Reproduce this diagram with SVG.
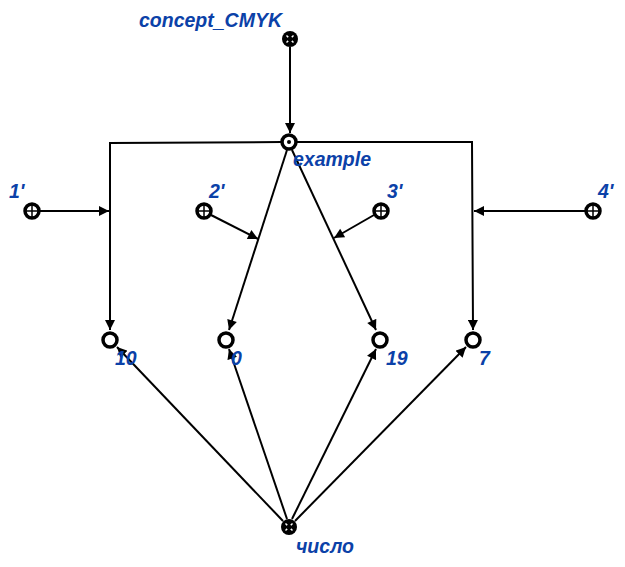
<svg xmlns="http://www.w3.org/2000/svg" width="625" height="567" viewBox="0 0 625 567">
<style>
.lbl{font-family:"Liberation Sans",Arial,sans-serif;font-weight:bold;font-style:italic;font-size:19.5px;fill:#0b41a8}
.e{fill:none;stroke:#000;stroke-width:2}
.ring{fill:#fff;stroke:#000;stroke-width:3.5}
.cr{stroke:#000;stroke-width:1.5}
.wx{stroke:#fff;stroke-width:1.5}
</style>
<defs>
<marker id="ah" viewBox="0 0 10 10" refX="10" refY="5" markerWidth="11" markerHeight="10" markerUnits="userSpaceOnUse" orient="auto">
<path d="M0,0 L10,5 L0,10 z" fill="#000"/>
</marker>
</defs>
<rect width="625" height="567" fill="#fff"/>
<g id="connectors">
<line class="e" x1="290" y1="47" x2="290" y2="133" marker-end="url(#ah)"/>
<polyline class="e" points="282,142 110,143 110,330" marker-end="url(#ah)"/>
<polyline class="e" points="297,142 472,142 473,330" marker-end="url(#ah)"/>
<line class="e" x1="287" y1="150" x2="229" y2="330" marker-end="url(#ah)"/>
<line class="e" x1="292" y1="150" x2="376" y2="330" marker-end="url(#ah)"/>
<line class="e" x1="40" y1="211" x2="109" y2="211" marker-end="url(#ah)"/>
<line class="e" x1="585" y1="211" x2="474" y2="211" marker-end="url(#ah)"/>
<line class="e" x1="211" y1="215" x2="258" y2="239" marker-end="url(#ah)"/>
<line class="e" x1="374" y1="215" x2="334" y2="238" marker-end="url(#ah)"/>
<line class="e" x1="283" y1="521" x2="117" y2="347" marker-end="url(#ah)"/>
<line class="e" x1="287" y1="519" x2="229" y2="349" marker-end="url(#ah)"/>
<line class="e" x1="292" y1="519" x2="376" y2="349" marker-end="url(#ah)"/>
<line class="e" x1="295" y1="521" x2="466" y2="347" marker-end="url(#ah)"/>
</g>
<g id="concept_CMYK">
<circle cx="290" cy="39" r="8" fill="#000"/>
<line class="wx" x1="286.5" y1="35.5" x2="293.5" y2="42.5"/>
<line class="wx" x1="293.5" y1="35.5" x2="286.5" y2="42.5"/>
<circle cx="290" cy="39" r="2.5" fill="#000"/>
<text class="lbl" x="139" y="27">concept_CMYK</text>
</g>
<g id="example">
<circle class="ring" cx="289" cy="142" r="7"/>
<circle cx="289" cy="142" r="2" fill="#000"/>
<text class="lbl" x="293" y="166">example</text>
</g>
<g id="n1p">
<circle class="ring" cx="32" cy="211" r="7"/>
<line class="cr" x1="26" y1="211" x2="38" y2="211"/>
<line class="cr" x1="32" y1="205" x2="32" y2="217"/>
<text class="lbl" x="9" y="198">1'</text>
</g>
<g id="n2p">
<circle class="ring" cx="204" cy="211" r="7"/>
<line class="cr" x1="198" y1="211" x2="210" y2="211"/>
<line class="cr" x1="204" y1="205" x2="204" y2="217"/>
<text class="lbl" x="209" y="198">2'</text>
</g>
<g id="n3p">
<circle class="ring" cx="381" cy="211" r="7"/>
<line class="cr" x1="375" y1="211" x2="387" y2="211"/>
<line class="cr" x1="381" y1="205" x2="381" y2="217"/>
<text class="lbl" x="387" y="198">3'</text>
</g>
<g id="n4p">
<circle class="ring" cx="593" cy="211" r="7"/>
<line class="cr" x1="587" y1="211" x2="599" y2="211"/>
<line class="cr" x1="593" y1="205" x2="593" y2="217"/>
<text class="lbl" x="598" y="198">4'</text>
</g>
<g id="n10">
<circle class="ring" cx="110" cy="340" r="7"/>
<text class="lbl" x="115" y="365">10</text>
</g>
<g id="n0">
<circle class="ring" cx="226" cy="340" r="7"/>
<text class="lbl" x="231" y="365">0</text>
</g>
<g id="n19">
<circle class="ring" cx="380" cy="340" r="7"/>
<text class="lbl" x="386" y="365">19</text>
</g>
<g id="n7">
<circle class="ring" cx="473" cy="340" r="7"/>
<text class="lbl" x="479" y="365">7</text>
</g>
<g id="chislo">
<circle cx="289" cy="527" r="8" fill="#000"/>
<line class="wx" x1="285.5" y1="523.5" x2="292.5" y2="530.5"/>
<line class="wx" x1="292.5" y1="523.5" x2="285.5" y2="530.5"/>
<circle cx="289" cy="527" r="2.5" fill="#000"/>
<text class="lbl" x="296" y="553">число</text>
</g>
</svg>
